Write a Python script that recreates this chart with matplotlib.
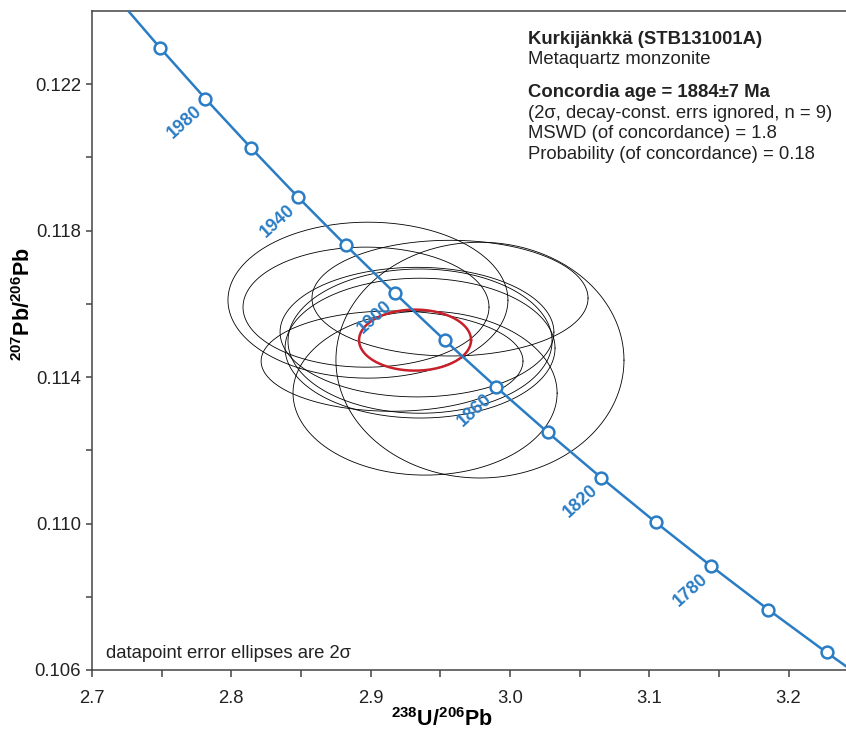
import numpy as np
import matplotlib
matplotlib.use("Agg")
import matplotlib.pyplot as plt

plt.rcParams['font.family'] = ['Liberation Sans', 'DejaVu Sans']
plt.rcParams['mathtext.fontset'] = 'custom'
plt.rcParams['mathtext.rm'] = 'Liberation Sans'
plt.rcParams['mathtext.it'] = 'Liberation Sans:italic'
plt.rcParams['mathtext.bf'] = 'Liberation Sans:bold'

# concordia curve (Tera-Wasserburg), ages in Ma
curve_ages = [1720, 1740, 1760, 1780, 1800, 1820, 1840, 1860, 1880, 1900, 1920, 1940, 1960, 1980, 2000, 2020]
curve_x = [3.2701, 3.2273, 3.1855, 3.1446, 3.1046, 3.0655, 3.0272, 2.9898, 2.9532, 2.9174,
           2.8823, 2.8479, 2.8143, 2.7813, 2.7490, 2.7174]
curve_y = [0.105326, 0.106480, 0.107649, 0.108835, 0.110037, 0.111254, 0.112489, 0.113740,
           0.115007, 0.116293, 0.117596, 0.118916, 0.120255, 0.121610, 0.122987, 0.124384]
marker_ages = [1740, 1760, 1780, 1800, 1820, 1840, 1860, 1880, 1900, 1920, 1940, 1960, 1980, 2000]
label_ages = [1780, 1820, 1860, 1900, 1940, 1980]

# data point error ellipses (2 sigma half-widths)
ell_x = [2.8981, 2.9570, 2.9785, 2.9391, 2.9154, 2.9333, 2.9355, 2.8967, 2.9355]
ell_y = [0.116102, 0.116157, 0.114464, 0.113563, 0.114437, 0.115229, 0.114983, 0.115911, 0.114792]
ell_sx = [0.1005, 0.0991, 0.1034, 0.0948, 0.0940, 0.0983, 0.0948, 0.0883, 0.0969]
ell_sy = [0.00213, 0.00158, 0.00322, 0.00224, 0.00137, 0.00177, 0.00197, 0.00164, 0.00191]
ell_rho = [0.0, 0.0, 0.0, 0.0, 0.0, 0.0, 0.0, 0.0, 0.0]

# concordia age ellipse
age_x, age_y = 2.9319, 0.115010
age_sx, age_sy, age_rho = 0.0402, 0.000833, 0.0

blue = '#2a7dc4'


def ellipse_xy(cx, cy, sx, sy, rho, n=300):
    t = np.linspace(0, 2 * np.pi, n)
    cov = np.array([[sx * sx, rho * sx * sy], [rho * sx * sy, sy * sy]])
    L = np.linalg.cholesky(cov)
    pts = L @ np.vstack([np.cos(t), np.sin(t)])
    return cx + pts[0], cy + pts[1]


W, H = 846, 731
fig = plt.figure(figsize=(W / 100, H / 100), dpi=100)
ax = fig.add_axes([92 / W, 61 / H, 754 / W, 659 / H])

for i in range(len(ell_x)):
    ex, ey = ellipse_xy(ell_x[i], ell_y[i], ell_sx[i], ell_sy[i], ell_rho[i])
    ax.plot(ex, ey, color='black', lw=0.6, zorder=2)

ex, ey = ellipse_xy(age_x, age_y, age_sx, age_sy, age_rho)
ax.plot(ex, ey, color='#c8202a', lw=1.8, zorder=3)

ax.plot(curve_x, curve_y, color=blue, lw=1.8, zorder=4)
mx = [curve_x[curve_ages.index(a)] for a in marker_ages]
my = [curve_y[curve_ages.index(a)] for a in marker_ages]
ax.plot(mx, my, 'o', ms=8.5, mfc='white', mec=blue, mew=1.8, zorder=5)

for a in label_ages:
    k = curve_ages.index(a)
    ax.annotate(str(a), (curve_x[k], curve_y[k]), xytext=(-4, -7.5), textcoords='offset points',
                ha='right', va='center', rotation=42, rotation_mode='anchor',
                color=blue, fontsize=13, fontweight='bold', zorder=6)

ax.set_xlim(2.7, 2.7 + 754 / 1393)
ax.set_ylim(0.106, 0.124)
ax.set_xticks([2.7, 2.8, 2.9, 3.0, 3.1, 3.2])
ax.set_xticks([2.75, 2.85, 2.95, 3.05, 3.15], minor=True)
ax.set_yticks([0.106, 0.110, 0.114, 0.118, 0.122])
ax.set_yticks([0.108, 0.112, 0.116, 0.120], minor=True)
ax.set_xticklabels(['2.7', '2.8', '2.9', '3.0', '3.1', '3.2'])
ax.set_yticklabels(['0.106', '0.110', '0.114', '0.118', '0.122'])

for s in ['left', 'bottom', 'top']:
    ax.spines[s].set_color('#444444')
    ax.spines[s].set_linewidth(1.1)
ax.spines['right'].set_visible(False)
ax.tick_params(which='both', direction='out', color='#444444', width=1.1, labelsize=13.3,
               labelcolor='#222222', top=False, right=False)
ax.tick_params(axis='x', which='both', length=5.2, pad=9)
ax.tick_params(axis='y', which='both', length=4, pad=4)

fig.text(442 / W, 1 - 726 / H, r'$\mathbf{^{238}U/^{206}Pb}$', fontsize=15.5,
         ha='center', va='baseline')
fig.text(30 / W, 1 - 304 / H, r'$\mathbf{^{207}Pb/^{206}Pb}$', fontsize=15.5,
         ha='center', va='baseline', rotation=90, rotation_mode='anchor')

info = dict(transform=ax.transAxes, fontsize=13.3, color='#222222', va='baseline')
x0 = (528 - 92) / 754
ax.text(x0, 1 - (44 - 11) / 659, 'Kurkijänkkä (STB131001A)', fontweight='bold', **info)
ax.text(x0, 1 - (64 - 11) / 659, 'Metaquartz monzonite', **info)
ax.text(x0, 1 - (97 - 11) / 659, 'Concordia age = 1884±7 Ma', fontweight='bold', **info)
ax.text(x0, 1 - (118 - 11) / 659, '(2σ, decay-const. errs ignored, n = 9)', **info)
ax.text(x0, 1 - (138 - 11) / 659, 'MSWD (of concordance) = 1.8', **info)
ax.text(x0, 1 - (159 - 11) / 659, 'Probability (of concordance) = 0.18', **info)
ax.text((106 - 92) / 754, (670 - 658) / 659, 'datapoint error ellipses are 2σ', **info)

fig.savefig('out.png', dpi=100)
